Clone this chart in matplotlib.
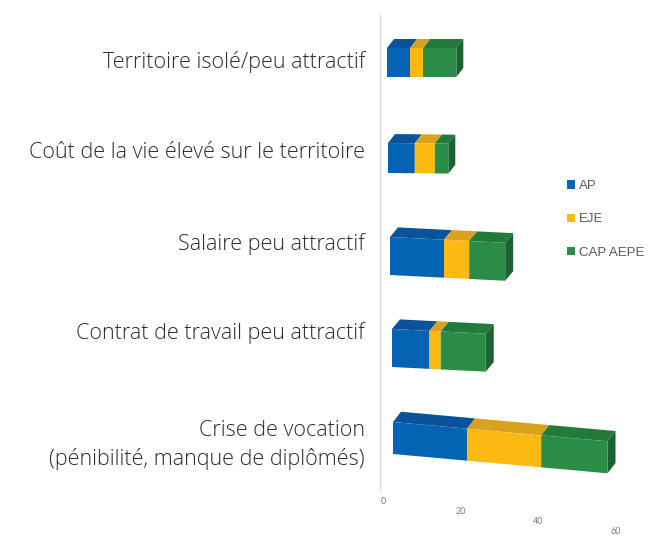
import math
import matplotlib
matplotlib.use("Agg")
import matplotlib.pyplot as plt
from matplotlib.patches import Patch
from matplotlib.transforms import Affine2D

# ---------------- data ----------------
categories = [
    "Territoire isolé/peu attractif",
    "Coût de la vie élevé sur le territoire",
    "Salaire peu attractif",
    "Contrat de travail peu attractif",
    "Crise de vocation\n(pénibilité, manque de diplômés)",
]
ap = [7, 8, 15, 10, 19]
eje = [4, 6, 7, 3, 19]
cap_aepe = [10, 4, 10, 12, 17]
series_names = ["AP", "EJE", "CAP AEPE"]
tick_values = [0, 20, 40, 60]

# ---------------- style ----------------
front_colors = ["#0563B3", "#FDB913", "#2A8C46"]
top_colors = ["#0A539A", "#D9A11C", "#227A3B"]
side_color = "#1B6431"
label_color = "#2B2B2B"
font = "Open Sans"

W, H = 663, 538
fig = plt.figure(figsize=(W / 100, H / 100), dpi=100)
fx = lambda x: x / W
fy = lambda y: 1 - y / H

# pseudo-3D perspective layout for each row (pixels):
# left edge, front-face top, front-face bottom, px per unit, downward slope, depth dx, dy
rows = [
    (387, 48, 77, 3.30, 0.00, 7, 9),
    (388, 143, 173, 3.35, 0.01, 7, 9),
    (390, 237, 275, 3.60, 0.05, 8, 10),
    (392, 329, 367, 3.75, 0.05, 8, 10),
    (393, 422, 454, 3.90, 0.09, 8, 11),
]
label_y = [62, 152, 244, 333, 445]
xmax = 60

# back wall edge
wall = fig.add_axes([fx(380), fy(490), 0.001, (490 - 15) / H])
wall.set_xticks([]); wall.set_yticks([])
for s in ["top", "right", "bottom"]:
    wall.spines[s].set_visible(False)
wall.spines["left"].set_color("#D9D9D9")
wall.spines["left"].set_linewidth(1.0)
wall.patch.set_alpha(0)

series = [ap, eje, cap_aepe]
for i, (left, top, bottom, scale, slope, ddx, ddy) in enumerate(rows):
    ax = fig.add_axes([fx(left), fy(bottom), xmax * scale / W, (bottom - top) / H])
    ax.set_xlim(0, xmax)
    ax.set_ylim(0, 1)
    ax.axis("off")
    x0, y0 = ax.transData.transform((0, 0))
    tr = ax.transData + (Affine2D().translate(-x0, -y0)
                         .skew(0, math.atan(-slope)).translate(x0, y0))
    dxd = ddx / scale
    dyd = ddy / (bottom - top)
    cum = 0
    for k, vals in enumerate(series):
        v = vals[i]
        # top face
        ax.fill([cum, cum + v, cum + v + dxd, cum + dxd], [1, 1, 1 + dyd, 1 + dyd],
                color=top_colors[k], transform=tr, clip_on=False, zorder=2, lw=0)
        cum += v
    # side face of the last segment
    ax.fill([cum, cum + dxd, cum + dxd, cum], [0, dyd, 1 + dyd, 1],
            color=side_color, transform=tr, clip_on=False, zorder=2, lw=0)
    cum = 0
    for k, vals in enumerate(series):
        v = vals[i]
        bars = ax.barh(0.5, v, left=cum, height=1, color=front_colors[k], zorder=3)
        for p in bars:
            p.set_transform(tr)
            p.set_clip_on(False)
        cum += v
    fig.text(fx(365), fy(label_y[i]), categories[i], ha="right", va="center",
             fontsize=15.5, color=label_color, family=font, weight="light",
             linespacing=1.45, multialignment="right")

# floor with value tick labels
floor = fig.add_axes([fx(383), fy(501), xmax * 3.88 / W, 0.001])
floor.set_xlim(0, xmax)
floor.axis("off")
fx0, fy0 = floor.transData.transform((0, 0))
ftr = floor.transData + (Affine2D().translate(-fx0, -fy0)
                         .skew(0, math.atan(-0.13)).translate(fx0, fy0))
for t in tick_values:
    floor.text(t, 0, str(t), transform=ftr, ha="center", va="center",
               fontsize=6.5, color="#7F7F7F", family="Lato", clip_on=False)

# legend
handles = [Patch(facecolor=c, edgecolor="none") for c in front_colors]
fig.legend(handles, series_names, loc="upper left",
           bbox_to_anchor=(fx(562), fy(175)), frameon=False,
           handlelength=0.6, handleheight=0.6, handletextpad=0.3,
           labelspacing=1.6, prop={"family": "Liberation Sans", "size": 9.5},
           labelcolor="#595959", borderaxespad=0)

fig.savefig("out.png", dpi=100)
